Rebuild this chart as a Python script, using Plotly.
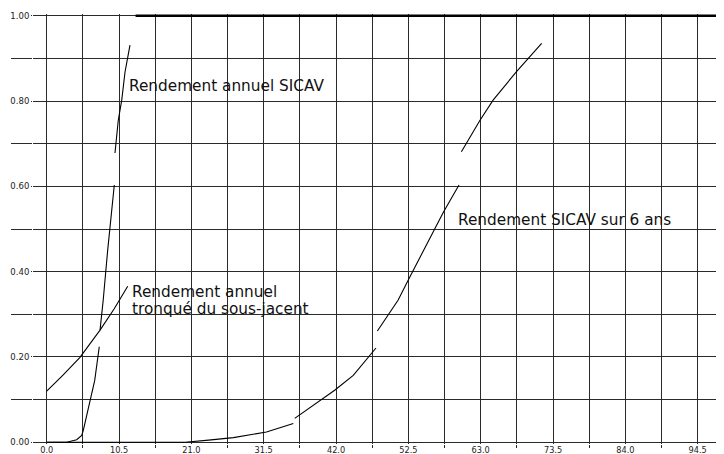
import plotly.graph_objects as go

# --- data ---
sicav_annuel_x = [0, 2.9, 4.35, 5.08, 5.31, 5.89, 6.53, 6.97, 7.63, None,
                  7.74, 8.2, 8.85, 9.81, None,
                  9.91, 10.39, 10.89, 11.37, 12.09]
sicav_annuel_y = [0, 0, 0.006, 0.016, 0.028, 0.067, 0.114, 0.145, 0.224, None,
                  0.263, 0.333, 0.450, 0.603, None,
                  0.678, 0.755, 0.802, 0.868, 0.931]
plafond_x = [12.9, 100]
plafond_y = [1.0, 1.0]

tronque_x = [0, 2.4, 4.83, 6.3, 7.74, 9.8, 11.76]
tronque_y = [0.12, 0.158, 0.199, 0.23, 0.263, 0.313, 0.366]

six_ans_x = [0, 20.1, 23.5, 27.1, 31.9, 35.8, None,
             36.0, 41.8, 44.5, 47.8, None,
             48.0, 51.0, 52.6, 57.6, 59.85, None,
             60.2, 62.9, 64.8, 68.2, 71.85]
six_ans_y = [0, 0, 0.005, 0.011, 0.024, 0.044, None,
             0.056, 0.122, 0.157, 0.221, None,
             0.261, 0.333, 0.384, 0.540, 0.603, None,
             0.681, 0.755, 0.802, 0.869, 0.935]

labels = ["Rendement annuel SICAV", "Rendement SICAV sur 6 ans",
          "Rendement annuel", "tronqué du sous-jacent"]
label_x = [11.8, 59.6, 12.2, 12.2]
label_y = [0.835, 0.520, 0.353, 0.312]

x_range = [-1.99, 99.48]
y_range = [-0.004, 1.004]

GRID = "#2a2a2a"
FONT = "DejaVu Sans"

fig = go.Figure()
line = dict(color="black", width=1.1)
fig.add_trace(go.Scatter(x=sicav_annuel_x, y=sicav_annuel_y, mode="lines", line=line))
fig.add_trace(go.Scatter(x=plafond_x, y=plafond_y, mode="lines", line=dict(color="black", width=2.6)))
fig.add_trace(go.Scatter(x=tronque_x, y=tronque_y, mode="lines", line=line))
fig.add_trace(go.Scatter(x=six_ans_x, y=six_ans_y, mode="lines", line=line))

for t, x, y in zip(labels, label_x, label_y):
    fig.add_annotation(x=x, y=y, xref="x", yref="y", text=t, showarrow=False,
                       xanchor="left", yanchor="middle", borderpad=0,
                       font=dict(family=FONT, size=15.3, color="#111"))

fig.update_xaxes(range=x_range, tick0=0, dtick=10.5, tickformat=".1f",
                 showgrid=True, gridcolor=GRID, gridwidth=1,
                 zeroline=True, zerolinecolor=GRID, zerolinewidth=1,
                 ticks="", ticklen=0,
                 showline=False, automargin=False,
                 tickfont=dict(family=FONT, size=8.2, color="#222"),
                 minor=dict(tick0=0, dtick=5.25, showgrid=True, gridcolor=GRID,
                            gridwidth=1, ticks="outside", ticklen=3, tickcolor=GRID))
fig.update_yaxes(range=y_range, tick0=0, dtick=0.2, tickformat=".2f",
                 showgrid=True, gridcolor=GRID, gridwidth=1,
                 zeroline=True, zerolinecolor=GRID, zerolinewidth=1,
                 ticks="outside", ticklen=1, tickcolor=GRID,
                 ticklabelstandoff=0,
                 showline=False, automargin=False,
                 tickfont=dict(family=FONT, size=8.5, color="#222"),
                 minor=dict(tick0=0, dtick=0.1, showgrid=True, gridcolor=GRID,
                            gridwidth=1, ticks="outside", ticklen=21, tickcolor=GRID))

# the page body adds an 8px offset; margins compensate so the plot sits where the reference has it
fig.update_layout(width=724, height=454, showlegend=False,
                  margin=dict(l=25, r=0, t=6, b=18),
                  paper_bgcolor="white", plot_bgcolor="white")

fig.write_html("out.html")
